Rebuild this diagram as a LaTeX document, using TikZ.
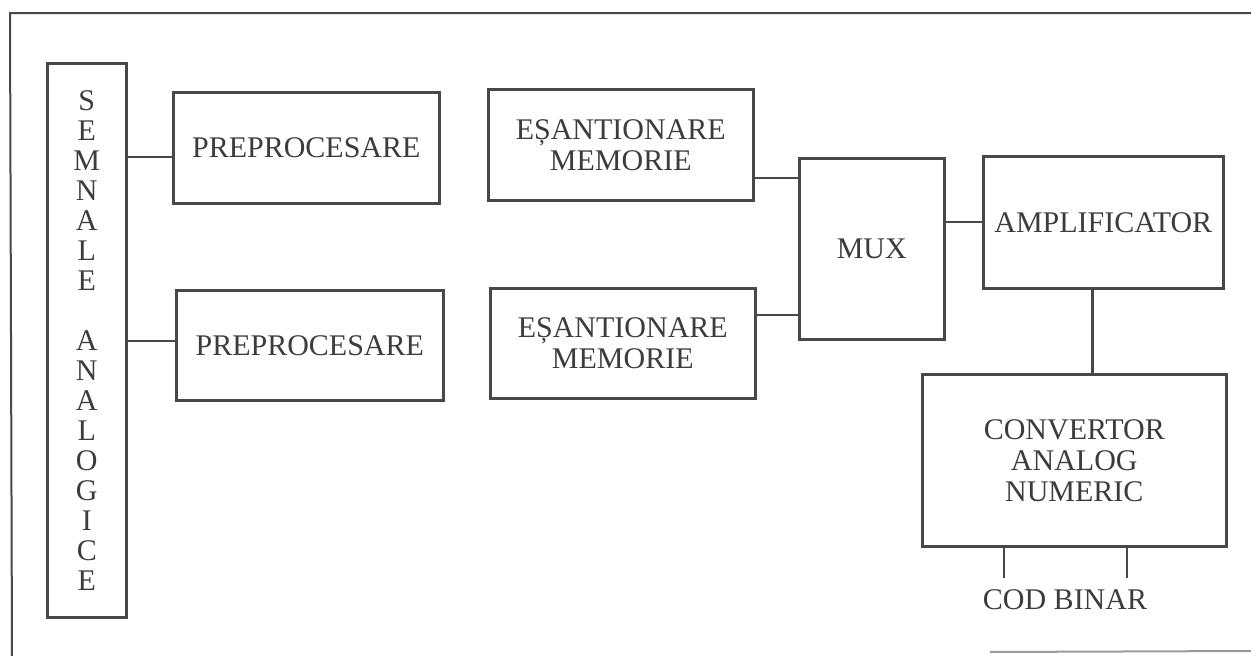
\documentclass[tikz,border=0pt]{standalone}
\usepackage{fontspec}
\setmainfont{Liberation Serif}
\definecolor{ink}{RGB}{72,72,72}
\definecolor{txt}{RGB}{60,60,60}
\begin{document}
\begin{tikzpicture}[x=1pt,y=-1pt,
  box/.style={draw=ink,line width=2.6pt,anchor=north west,inner sep=0pt,align=center,text=txt,
    font=\fontsize{30}{31}\selectfont},
  wire/.style={draw=ink,line width=2pt},
  frame/.style={draw=ink,line width=2pt}]
\useasboundingbox (0,0) rectangle (1251,656);
% outer frame (scan: right side cut)
\draw[frame] (1251,13) -- (10,13) -- (12,656);
\draw[frame,draw=ink!55] (990,652) -- (1251,651);
% blocks
\node[box,minimum width=79pt,minimum height=554pt,font=\fontsize{30}{30}\selectfont] (semn) at (46,62)
  {S\\E\\M\\N\\A\\L\\E\\[30pt]A\\N\\A\\L\\O\\G\\I\\C\\E};
\node[box,minimum width=266pt,minimum height=111pt] (pre1) at (172,91) {PREPROCESARE};
\node[box,minimum width=267pt,minimum height=110pt] (pre2) at (175,289) {PREPROCESARE};
\node[box,minimum width=265pt,minimum height=111pt] (esa1) at (487,88) {EȘANTIONARE\\MEMORIE};
\node[box,minimum width=265pt,minimum height=110pt] (esa2) at (489,287) {EȘANTIONARE\\MEMORIE};
\node[box,minimum width=145pt,minimum height=181pt] (mux) at (798,157) {MUX};
\node[box,minimum width=240pt,minimum height=132pt] (amp) at (982,155) {AMPLIFICATOR};
\node[box,minimum width=304pt,minimum height=172pt] (conv) at (921,373) {CONVERTOR\\ANALOG\\NUMERIC};
\node[text=txt,font=\fontsize{30}{31}\selectfont,inner sep=0pt] (cod) at (1065,600) {COD BINAR};
% connectors
\path ([yshift=-9.5pt]pre1.west) coordinate (p1);
\draw[wire] (p1 -| semn.east) -- (p1);
\path ([yshift=4pt]pre2.west) coordinate (p2);
\draw[wire] (p2 -| semn.east) -- (p2);
\path ([yshift=-33.5pt]esa1.east) coordinate (e1);
\draw[wire] (e1) -- (e1 -| mux.west);
\path ([yshift=28pt]esa2.east) coordinate (e2);
\draw[wire] (e2) -- (e2 -| mux.west);
\draw[wire] (mux.east |- amp.west) -- (amp.west);
\path ([xshift=-11pt]amp.south) coordinate (a1);
\draw[wire,line width=2.6pt] (a1) -- (a1 |- conv.north);
\coordinate (l1) at (1004,578);
\coordinate (l2) at (1127,578);
\draw[wire,line width=2.6pt] (l1 |- conv.south) -- (l1);
\draw[wire,line width=2.6pt] (l2 |- conv.south) -- (l2);
\end{tikzpicture}
\end{document}
